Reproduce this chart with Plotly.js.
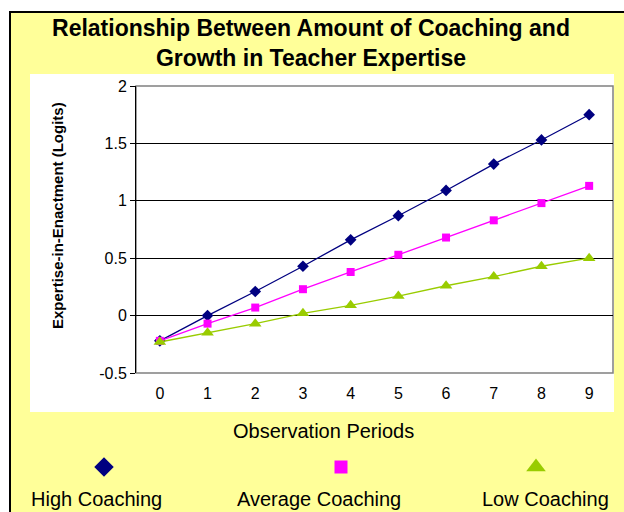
<!DOCTYPE html>
<html>
<head>
<meta charset="utf-8">
<script src="https://cdn.plot.ly/plotly-3.0.1.min.js"></script>
<style>html,body{margin:0;padding:0;background:#fff;}</style>
</head>
<body>
<div id="chart" style="width:624px;height:512px;"></div>
<script>
// ---- data ----
const periods = [0, 1, 2, 3, 4, 5, 6, 7, 8, 9];
const periodLabels = ["0", "1", "2", "3", "4", "5", "6", "7", "8", "9"];
const highCoaching = [-0.22, 0.00, 0.21, 0.43, 0.66, 0.87, 1.09, 1.32, 1.53, 1.75];
const averageCoaching = [-0.22, -0.07, 0.07, 0.23, 0.38, 0.53, 0.68, 0.83, 0.98, 1.13];
const lowCoaching = [-0.23, -0.15, -0.07, 0.02, 0.09, 0.17, 0.26, 0.34, 0.43, 0.50];
const seriesNames = ["High Coaching", "Average Coaching", "Low Coaching"];
const yTickVals = [-0.5, 0, 0.5, 1, 1.5, 2];
const yTickText = ["-0.5", "0", "0.5", "1", "1.5", "2"];

// ---- styles ----
const FONT = "Liberation Sans, Arial, sans-serif";
const colors = ["#000080", "#FF00FF", "#99CC00"];
const symbols = ["diamond", "square", "triangle-up"];
const sizes = [9, 8, 11];
const W = 624, H = 512;

const seriesData = [highCoaching, averageCoaching, lowCoaching];
const traces = seriesData.map((vals, i) => ({
  x: periods, y: vals, type: "scatter", mode: "lines+markers",
  name: seriesNames[i], xaxis: "x", yaxis: "y",
  line: {color: colors[i], width: 1.3},
  marker: {symbol: symbols[i], color: colors[i], size: sizes[i]},
  showlegend: false, hoverinfo: "x+y"
}));

// custom legend (markers above labels), drawn on a hidden pixel-space axis pair
const legendMarkerX = [104, 341, 536];
const legendLabelX = [96, 319, 545];
const legendMarkerY = 467, legendLabelY = 499;
seriesNames.forEach((n, i) => {
  traces.push({
    x: [legendMarkerX[i]], y: [legendMarkerY], type: "scatter", mode: "markers",
    xaxis: "x2", yaxis: "y2", showlegend: false, hoverinfo: "skip",
    marker: {symbol: symbols[i], color: colors[i], size: [15, 13, 17][i]}
  });
});

const annotations = seriesNames.map((n, i) => ({
  text: n, xref: "paper", yref: "paper",
  x: legendLabelX[i] / W, y: 1 - legendLabelY / H,
  xanchor: "center", yanchor: "middle", showarrow: false,
  font: {family: FONT, size: 20, color: "#000"}
}));
annotations.push({
  text: "Observation Periods", xref: "paper", yref: "paper",
  x: 323 / W, y: 1 - 431 / H, xanchor: "center", yanchor: "middle", showarrow: false,
  font: {family: FONT, size: 20, color: "#000"}
});
annotations.push({
  text: "Expertise-in-Enactment (Logits)", xref: "paper", yref: "paper",
  x: 57 / W, y: 1 - 216 / H, xanchor: "center", yanchor: "middle", showarrow: false,
  textangle: -90, font: {family: FONT, size: 15, color: "#000", weight: "bold"}
});

const layout = {
  width: W, height: H,
  margin: {l: 0, r: 0, t: 0, b: 0, pad: 0},
  paper_bgcolor: "#FFFFFF",
  plot_bgcolor: "rgba(0,0,0,0)",
  font: {family: FONT, color: "#000"},
  title: {
    text: "Relationship Between Amount of Coaching and<br>Growth in Teacher Expertise",
    x: 311 / W, xref: "paper", xanchor: "center",
    y: 1 - 36 / H, yref: "paper", yanchor: "middle",
    font: {family: FONT, size: 23, color: "#000", weight: "bold"}
  },
  xaxis: {
    domain: [136 / W, 613 / W], anchor: "y",
    range: [-0.5, 9.5], tickvals: periods, ticktext: periodLabels,
    ticks: "", showgrid: false, zeroline: false, showline: false,
    ticklabelstandoff: 9,
    tickfont: {family: FONT, size: 16, color: "#000"}
  },
  yaxis: {
    domain: [1 - 373 / H, 1 - 86 / H], anchor: "x",
    range: [-0.5, 2], tickvals: yTickVals, ticktext: yTickText,
    showgrid: true, gridcolor: "#000", gridwidth: 1,
    zeroline: true, zerolinecolor: "#000", zerolinewidth: 1,
    showline: true, linecolor: "#000", linewidth: 1,
    ticks: "outside", ticklen: 5, tickcolor: "#000",
    tickfont: {family: FONT, size: 16, color: "#000"}
  },
  xaxis2: {domain: [0, 1], anchor: "y2", range: [0, W], visible: false, fixedrange: true},
  yaxis2: {domain: [0, 1], anchor: "x2", range: [H, 0], visible: false, fixedrange: true},
  shapes: [
    {type: "rect", xref: "paper", yref: "paper", layer: "below",
     x0: 10 / W, x1: 1.05, y0: -0.05, y1: 1 - 12 / H,
     fillcolor: "#FFFF99", line: {color: "#000", width: 2}},
    {type: "rect", xref: "paper", yref: "paper", layer: "below",
     x0: 30 / W, x1: 614 / W, y0: 1 - 412 / H, y1: 1 - 74 / H,
     fillcolor: "#FFFFFF", line: {width: 0}},
    {type: "rect", xref: "x domain", yref: "y domain", layer: "below",
     x0: 0, x1: 1, y0: 0, y1: 1,
     fillcolor: "rgba(0,0,0,0)", line: {color: "#808080", width: 1.5}}
  ],
  annotations: annotations,
  showlegend: false
};

Plotly.newPlot("chart", traces, layout, {displayModeBar: false, staticPlot: true});
</script>
</body>
</html>
